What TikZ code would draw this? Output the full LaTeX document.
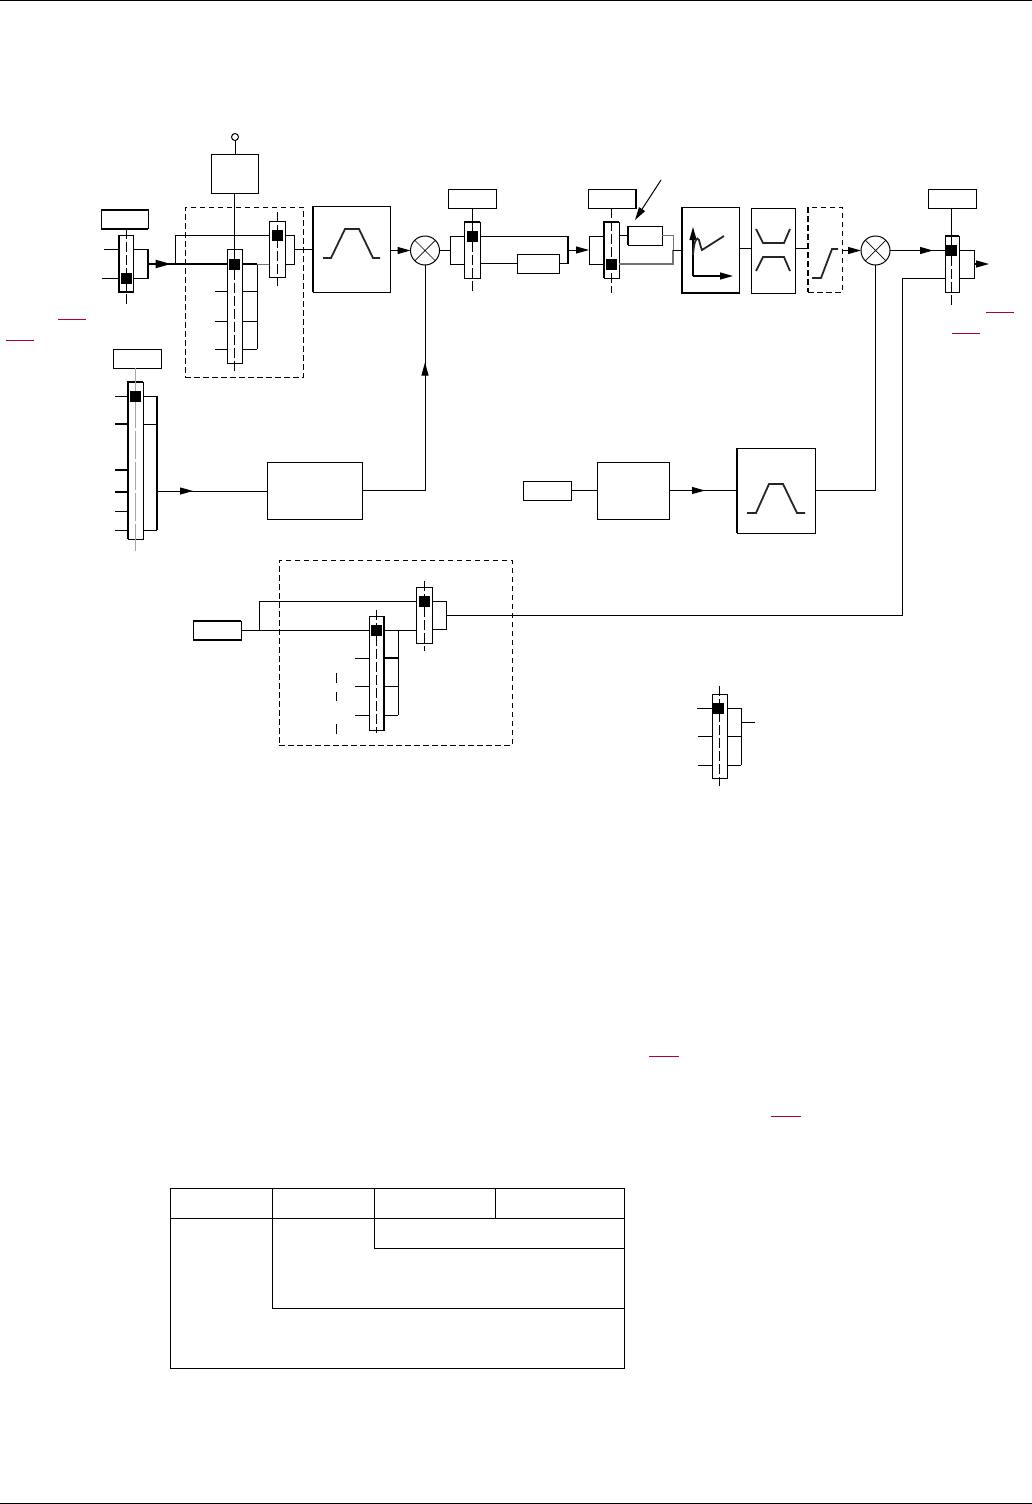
\documentclass[tikz,border=0pt]{standalone}
\usetikzlibrary{arrows.meta,decorations.markings,calc}
\definecolor{refred}{HTML}{B0003C}
\tikzset{
  x=1pt,y=-1pt,
  every path/.style={line width=1pt},
  ln/.style={draw=black,line width=1pt},
  thk/.style={draw=black,line width=2pt},
  gryline/.style={draw=black!55,line width=1pt},
  rbox/.style={draw=black,line width=1pt,fill=none,inner sep=0pt,outer sep=0pt,shape=rectangle},
  dbox/.style={rbox,dash pattern=on 5.5pt off 3.5pt},
  blk/.style={fill=black,draw=none,inner sep=0pt,outer sep=0pt,shape=rectangle,minimum width=11pt,minimum height=11pt},
  ctr/.style={draw=black,line width=1pt,dash pattern=on 10pt off 3pt},
  grc/.style={draw=black!35,line width=1.4pt},
  icon/.style={draw=black!85,line width=1.8pt},
  red/.style={draw=refred,line width=1pt},
  mult/.style={draw=black,line width=1pt,shape=circle,inner sep=0pt,outer sep=0pt,minimum size=29pt},
  tipa/.style={-{Stealth[length=13pt,width=7pt,inset=0pt]}},
  midarrow/.style={postaction={decorate},decoration={markings,mark=at position #1 with {\arrow{Stealth[length=13pt,width=7pt,inset=0pt]}}}},
}
% rectangle by its corners
\newcommand{\bx}[6][rbox]{\node[#1,minimum width={(#5)*1pt-(#3)*1pt},minimum height={(#6)*1pt-(#4)*1pt}] (#2) at ({((#3)+(#5))/2},{((#4)+(#6))/2}) {};}
\newcommand{\crossm}[1]{\draw[line width=.7pt] (#1.45) -- (#1.225) (#1.135) -- (#1.315);}
\begin{document}
\begin{tikzpicture}
\useasboundingbox (0,0) rectangle (1032,1504);
% page rules
\coordinate (tl) at (0,0.5); \coordinate (tr) at (1032,0.5);
\coordinate (bl) at (0,1503); \coordinate (br) at (1032,1503);
\draw[ln] (tl) -- (tr); \draw[ln] (bl) -- (br);

%% input selector
\bx{lab1}{101}{209.5}{148}{228.5}
\draw[thk] (lab1.north west) -- (lab1.north east) (lab1.south west) -- (lab1.south east);
\bx{sw1}{119}{235}{133.5}{292}
\draw[line width=1.6pt] (sw1.north west) -- (sw1.south west) -- (sw1.south east);
\draw[ctr] (126.5,229) -- (126.5,306);
\node[blk] (k1) at (126.5,278) {};
\draw[ln] (sw1.west |- 0,249) -- (104,249);
\draw[ln] (sw1.west |- 0,278) -- (102,278);
\coordinate (o1) at (148,264);
\draw[ln] (sw1.east |- 0,249) -| (o1);
\draw[ln] (sw1.east |- 0,278) -| (o1);
\draw[thk] (148,249) -- (148,278);

%% dashed group 1
\bx[dbox]{grp1}{185}{207}{303.5}{377}
\bx{top1}{211}{154}{258}{193}
\node[draw,line width=1pt,shape=circle,inner sep=0pt,minimum size=7pt] (ring) at (235,137) {};
\draw[ln] (ring) -- (top1.north -| ring);
\bx{sw2}{227}{249}{242}{363}
\node[blk] (k2) at (234.5,264) {};
\draw[ln] (top1.south -| k2) -- (k2);
\draw[ctr] (k2) -- (234.5,371);
\foreach \yy in {291,321,349}{
  \draw[ln] (sw2.west |- 0,\yy) -- (215,\yy);
  \draw[ln] (sw2.east |- 0,\yy) -- (257,\yy);
}
\coordinate (j2) at (257,264);
\draw[ln] (j2) -- (257,349);
\draw[thk,midarrow=21pt] (o1) -- (sw2.west |- o1);
\draw[thk] (sw2.east |- j2) -- (j2);
\bx{sw3}{269}{221}{285}{277}
\node[blk] (k3) at (277,235) {};
\draw[ctr] (277.5,212) -- (277.5,286);
\coordinate (j3) at (175,264);
\draw[ln] (j3) |- (sw3.west |- k3);
\draw[gryline] (j2) -- (sw3.west |- j2);
\coordinate (o3) at (294.5,249);
\draw[ln] (sw3.east |- 0,235) -| (o3);
\draw[ln] (sw3.east |- 0,264) -| (o3);

%% ramp 1
\bx{ramp1}{313}{206}{390.5}{292}
\draw[thk] (ramp1.north west) -- (ramp1.south west);
\draw[icon] (323,258) -- (331,258) -- (345,229) -- (359,229) -- (373,258) -- (380,258);
\draw[ln] (o3) -- (ramp1.west |- o3);

%% multiplier 1
\node[mult] (m1) at (425,250.5) {};
\crossm{m1}
\draw[ln,tipa] (ramp1.east |- m1) -- (m1.west);

%% switch 4
\coordinate (i4) at (450.5,250.5);
\draw[ln] (m1.east) -- (i4);
\bx{lab4}{448}{189}{496}{208}
\bx{sw4}{464}{222}{480}{278}
\draw[line width=1.6pt] (sw4.north west) -- (sw4.north east);
\node[blk] (k4) at (472,236) {};
\draw[ln] (lab4.south -| k4) -- (k4);
\draw[ctr] (k4) -- (472,293);
\draw[ln] (sw4.west |- 0,236) -| (i4);
\draw[ln] (sw4.west |- 0,264) -| (i4);
\bx{dly}{517}{254}{559}{273}
\draw[ln] (sw4.east |- dly) -- (dly.west);
\coordinate (o4) at (568,250);
\draw[ln] (dly.east) -| (o4);
\draw[ln] (sw4.east |- 0,236) -| (o4);
\draw[line width=1.6pt] (568,236) -- (568,264);

%% switch 5
\coordinate (i5) at (589,250);
\draw[ln,tipa] (o4) -- (i5);
\bx{lab5}{588}{189}{636}{208}
\draw[line width=1.6pt] (lab5.north east) -- (lab5.south east);
\bx{sw5}{604}{222}{619}{278}
\draw[line width=1.6pt] (sw5.south west) -- (sw5.north west) -- (sw5.north east);
\draw[ctr] (lab5.south -| 611.5,0) -- (611.5,293);
\node[blk] (k5) at (611.5,264) {};
\draw[ln] (sw5.west |- 0,236) -| (i5);
\draw[ln] (sw5.west |- 0,264) -| (i5);
\bx{pbox}{628}{226}{662}{245}
\draw[thk] (pbox.north west) -- (pbox.south west);
\draw[ln] (sw5.east |- pbox) -- (pbox.west);
\coordinate (o5) at (673,250);
\draw[gryline] (pbox.east) -| (o5);
\draw[gryline,line width=1.2pt] (sw5.east |- 0,264) -| (o5);
\coordinate (aS) at (661,180);
\coordinate (aE) at (635,220);
\draw[ln,tipa] (aS) -- (aE);

%% curve block
\bx{cur}{682}{207}{739}{293}
\draw[line width=1.8pt] (cur.north west) -- (cur.south west) -- (cur.south east);
\draw[ln] (o5) -- (cur.west |- o5);
\coordinate (ax) at (693,276);
\draw[line width=1.3pt,tipa] (ax) -- (693,227);
\draw[line width=1.3pt,tipa] (ax) -- (733,276);
\draw[icon] (693,255) .. controls (694,240) and (697,236) .. (699,240) .. controls (700,244) and (701,248) .. (702,250) -- (724,236);

%% limits block
\bx{lim}{751}{208}{795}{293}
\draw[ln] (cur.east |- 0,248) -- (lim.west |- 0,248);
\draw[icon] (756,229) -- (763,243) -- (784,243) -- (790,229);
\draw[icon] (756,271) -- (763,257) -- (784,257) -- (790,271);

%% dashed ramp
\bx[dbox]{drm}{808}{207}{842}{292}
\draw[line width=1.8pt,dash pattern=on 5.5pt off 3.5pt] (drm.north west) -- (drm.south west);
\draw[ln] (lim.east |- 0,248) -- (drm.west |- 0,248);
\draw[icon] (812,278) -- (821,278) -- (832,249) -- (838,249);

%% multiplier 2
\node[mult] (m2) at (875.5,250.5) {};
\crossm{m2}
\draw[ln,tipa] (drm.east |- m2) -- (m2.west);

%% output switch
\bx{lab6}{928}{189}{976}{208}
\bx{sw6}{945}{236}{959}{292}
\draw[line width=1.6pt] (sw6.north west) -- (sw6.north east);
\node[blk] (k6) at (951.5,250) {};
\draw[ln] (lab6.south -| k6) -- (k6);
\draw[ctr] (k6) -- (951.5,307);
\draw[ln,midarrow=43pt] (m2.east) -- (sw6.west |- m2);
\coordinate (o6) at (974,264);
\draw[ln] (sw6.east |- 0,250) -| (o6);
\draw[ln] (sw6.east |- 0,278) -| (o6);
\coordinate (out) at (989,264);
\draw[line width=1.4pt,tipa] (o6) -- (out);

%% second selector (left middle)
\bx{lab7}{113}{349}{161}{368}
\bx{sw7}{128}{382}{143}{539}
\draw[line width=1.6pt] (sw7.south west) -- (sw7.north west) -- (sw7.north east);
\draw[grc] (lab7.south -| 135.5,0) -- (135.5,551);
\draw[draw=white,line width=1.2pt,dash pattern=on 3pt off 28pt] (135.5,428) -- (135.5,530);
\node[blk] (k7) at (135.5,396) {};
\foreach \yy/\ww in {396/1pt,424/2pt,470/2pt,492/2pt,511/1pt,530/1pt}{
  \draw[line width=\ww] (sw7.west |- 0,\yy) -- (115,\yy);
}
\foreach \yy in {396,424,530}{\draw[ln] (sw7.east |- 0,\yy) -- (157,\yy);}
\coordinate (o7) at (157,491);
\draw[thk] (157,396) -- (157,530);
\bx{scale1}{267}{462}{362}{519}
\draw[ln,midarrow=36pt] (o7) -- (scale1.west |- o7);
\draw[ln,midarrow=191pt] (scale1.east) -| (m1.south);

%% middle chain
\bx{lab8}{523}{481}{571}{500}
\bx{scale2}{597}{462}{669}{519}
\draw[ln] (lab8.east) -- (scale2.west |- lab8);
\bx{ramp2}{737}{448}{815}{533}
\draw[thk] (ramp2.north west) -- (ramp2.south west);
\draw[icon] (747,513) -- (756,513) -- (769,484) -- (783,484) -- (797,513) -- (805,513);
\draw[ln,midarrow=36pt] (scale2.east) -- (ramp2.west |- scale2);
\draw[ln] (ramp2.east) -| (m2.south);

%% dashed group 2
\bx{lab9}{193}{621}{241}{640}
\draw[thk] (lab9.north west) -- (lab9.north east) (lab9.south west) -- (lab9.south east);
\bx[dbox]{grp2}{279}{560}{512}{745}
\bx{sw8}{369}{616}{384}{730}
\draw[line width=1.6pt] (sw8.north east) -- (sw8.south east);
\draw[ctr] (376.5,610) -- (376.5,733);
\node[blk] (k8) at (376.5,630) {};
\draw[ln] (lab9.east) -- (sw8.west |- lab9);
\foreach \yy in {658,686,715}{
  \draw[ln] (sw8.west |- 0,\yy) -- (355,\yy);
  \draw[ln] (sw8.east |- 0,\yy) -- (398,\yy);
}
\draw[line width=1.5pt] (sw8.east |- 0,658) -- (398,658);
\coordinate (j8) at (398,630);
\draw[ln] (j8) -- (398,715);
\bx{sw9}{416}{587}{432}{643}
\draw[ctr] (424,581) -- (424,651);
\node[blk] (k9) at (424,601) {};
\coordinate (j9) at (259,630);
\draw[ln] (j9) |- (sw9.west |- k9);
\draw[ln] (sw8.east |- j8) -- (sw9.west |- j8);
\coordinate (o9) at (446,615);
\draw[ln] (sw9.east |- 0,601) -| (o9);
\draw[ln] (sw9.east |- 0,629) -| (o9);
\coordinate (j10) at (902,615.5);
\draw[ln] (o9 |- j10) -- (j10);
\draw[ln] (j10) |- (sw6.west |- 0,278);
\coordinate (d1a) at (336.5,673); \coordinate (d1b) at (336.5,701);
\coordinate (d2a) at (336.5,724); \coordinate (d2b) at (336.5,741);
\draw[line width=.9pt,dash pattern=on 9.5pt off 9.5pt] (d1a) -- (d1b);
\draw[line width=.9pt,dash pattern=on 9.5pt off 9.5pt] (d2a) -- (d2b);

%% legend selector
\bx{sw10}{712}{694}{727}{778}
\draw[ctr] (719.5,686) -- (719.5,786);
\node[blk] (k10) at (718.5,708) {};
\draw[ln] (sw10.west |- 0,708) -- (697,708);
\draw[ln] (sw10.west |- 0,736) -- (698,736);
\draw[ln] (sw10.west |- 0,765) -- (698,765);
\foreach \yy in {708,736,765}{\draw[ln] (sw10.east |- 0,\yy) -- (741,\yy);}
\coordinate (o10) at (741,722);
\coordinate (e10) at (755,722);
\draw[ln] (741,708) -- (741,765);
\draw[ln] (o10) -- (e10);

%% red link rules
\coordinate (r1a) at (58,319); \coordinate (r1b) at (86,319);
\coordinate (r2a) at (6,340); \coordinate (r2b) at (34,340);
\coordinate (r3a) at (986,312); \coordinate (r3b) at (1014,312);
\coordinate (r4a) at (952,333); \coordinate (r4b) at (980,333);
\coordinate (r5a) at (649,1056); \coordinate (r5b) at (679,1056);
\coordinate (r6a) at (771,1116); \coordinate (r6b) at (801,1116);
\draw[red] (r1a) -- (r1b) (r2a) -- (r2b) (r3a) -- (r3b) (r4a) -- (r4b) (r5a) -- (r5b) (r6a) -- (r6b);

%% table
\bx{tab}{170.5}{1188.5}{624.5}{1368}
\draw[ln] (tab.north west |- 0,1218.5) -- (tab.north east |- 0,1218.5);
\draw[ln] (272.5,1188.5) |- (624.5,1308);
\draw[ln] (374,1188.5) |- (624.5,1248.5);
\draw[ln] (495,1188.5) -- (495,1218.5);
\end{tikzpicture}
\end{document}
